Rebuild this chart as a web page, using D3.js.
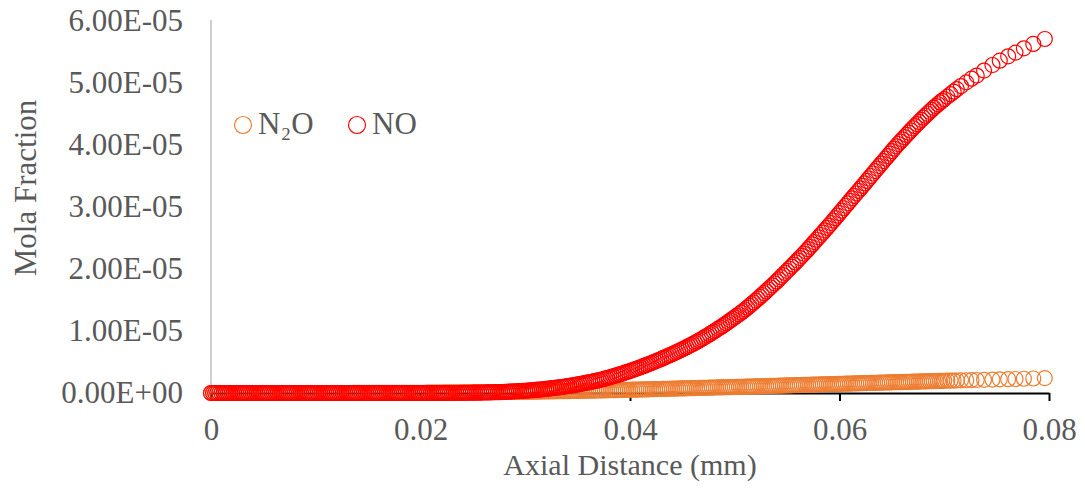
<!DOCTYPE html>
<html>
<head>
<meta charset="utf-8">
<script src="https://cdn.jsdelivr.net/npm/d3@7"></script>
<style>
  html, body { margin: 0; padding: 0; background: #ffffff; }
  svg { display: block; }
</style>
</head>
<body>
<svg id="chart" width="1085" height="491"></svg>
<script>
// ---------------- data ----------------
const seriesNames = ["N₂O", "NO"];

const xTickValues = [0, 0.02, 0.04, 0.06, 0.08];
const xTickLabels = ["0", "0.02", "0.04", "0.06", "0.08"];
const yTickValues = [0, 1e-5, 2e-5, 3e-5, 4e-5, 5e-5, 6e-5];
const yTickLabels = ["0.00E+00", "1.00E-05", "2.00E-05", "3.00E-05", "4.00E-05", "5.00E-05", "6.00E-05"];

// axial distance of the grid points, in units of 1e-4 mm
const axialDistanceE4 = [
  0,2,4,6,8,10,12,14,16,18,20,22,24,26,28,30,32,34,36,38,40,42,44,46,48,50,52,54,56,58,60,62,64,66,68,70,72,74,76,78,80,82,84,86,88,90,92,94,96,98,
  100,102,104,106,108,110,112,114,116,118,120,122,124,126,128,130,132,134,136,138,140,142,144,146,148,150,152,154,156,158,160,162,164,166,168,170,172,174,176,178,180,182,184,186,188,190,192,194,196,198,
  200,202,204,206,208,210,212,214,216,218,220,222,224,226,228,230,232,234,236,238,240,242,244,246,248,250,252,254,256,258,260,262,264,266,268,270,272,274,276,278,280,282,284,286,288,290,292,294,296,298,
  300,302,304,306,308,310,312,314,316,318,320,322,324,326,328,330,332,334,336,338,340,342,344,346,348,350,352,354,356,358,360,362,364,366,368,370,372,374,376,378,380,382,384,386,388,390,392,394,396,398,
  400,402,404,406,408,410,412,414,416,418,420,422,424,426,428,430,432,434,436,438,440,442,444,446,448,450,452,454,456,458,460,462,464,466,468,470,472,474,476,478,480,482,484,486,488,490,492,494,496,498,
  500,502,504,506,508,510,512,514,516,518,520,522,524,526,528,530,532,534,536,538,540,542,544,546,548,550,552,554,556,558,560,562,564,566,568,570,572,574,576,578,580,582,584,586,588,590,592,594,596,598,
  600,602,604,606,608,610,612,614,616,618,620,622,624,626,628,630,632,634,636,638,640,642,644,646,648,650,652,654,656,658,660,662,664,666,668,670,672,674,676,678,680,682,684,686,688,690,692,694,696,698,
  700,703,706,709,712,716,721,726,731,738,746,753,761,768,776,785,796
];

// N2O mole fraction, in units of 1e-5
const n2oE5 = [
  0,0,0,0,0,0,0,0,0,0,0,0,0,0,0,0,0,0,0,0,0,0,0,0,0,0,0,0,0,0,0,0,0,0,0,0,0,0,0,0,0,0,0,0,0,0,0,0,0,0,
  0,0,0,0,0,0,0,0,0,0,0,.0001,.0002,.0002,.0003,.0003,.0004,.0004,.0005,.0005,.0006,.0007,.0008,.0008,.0009,.0010,.0011,.0012,.0013,.0014,.0015,.0016,.0017,.0018,.0019,.0020,.0021,.0023,.0024,.0026,.0027,.0028,.0029,.0030,.0031,.0033,.0035,.0036,.0038,.0039,
  .0040,.0042,.0044,.0046,.0048,.0050,.0052,.0054,.0056,.0058,.0060,.0062,.0065,.0067,.0070,.0072,.0074,.0077,.0080,.0082,.0085,.0088,.0091,.0094,.0097,.0100,.0103,.0106,.0110,.0114,.0118,.0122,.0126,.0130,.0134,.0138,.0142,.0146,.0150,.0155,.0160,.0164,.0168,.0172,.0176,.0180,.0184,.0188,.0192,.0196,
  .0200,.0205,.0210,.0215,.0220,.0226,.0231,.0237,.0242,.0248,.0253,.0259,.0264,.0270,.0275,.0281,.0286,.0292,.0298,.0304,.0310,.0316,.0322,.0328,.0334,.0341,.0347,.0354,.0360,.0367,.0373,.0380,.0386,.0393,.0400,.0407,.0414,.0421,.0428,.0435,.0442,.0450,.0457,.0465,.0472,.0480,.0487,.0495,.0503,.0511,
  .0520,.0529,.0537,.0546,.0554,.0563,.0571,.0580,.0589,.0598,.0607,.0616,.0625,.0634,.0643,.0652,.0661,.0670,.0679,.0688,.0697,.0706,.0715,.0724,.0733,.0742,.0751,.0760,.0769,.0778,.0787,.0796,.0805,.0814,.0823,.0832,.0841,.0850,.0859,.0868,.0877,.0886,.0895,.0904,.0913,.0922,.0931,.0940,.0949,.0960,
  .097,.098,.099,.100,.101,.102,.103,.104,.105,.106,.107,.108,.109,.110,.111,.112,.113,.114,.115,.116,.117,.118,.119,.120,.121,.122,.123,.124,.125,.126,.127,.128,.129,.130,.131,.132,.133,.134,.135,.136,.137,.138,.139,.140,.141,.142,.143,.144,.145,.146,
  .147,.148,.149,.150,.151,.152,.153,.154,.155,.156,.157,.158,.159,.160,.161,.162,.163,.164,.165,.166,.167,.168,.169,.170,.171,.172,.173,.174,.175,.176,.177,.178,.179,.180,.181,.182,.183,.184,.185,.186,.187,.188,.189,.190,.191,.192,.193,.194,.195,.196,
  .197,.198,.200,.201,.202,.204,.206,.208,.210,.213,.216,.220,.223,.226,.230,.234,.240
];

// NO mole fraction, in units of 1e-5
const noE5 = [
  0,0,0,0,0,0,0,0,0,0,0,0,0,0,0,0,0,0,0,0,0,0,0,0,0,0,0,0,0,0,0,0,0,0,0,0,0,0,0,0,0,0,0,0,0,0,0,0,0,0,
  0,0,0,0,0,0,0,0,0,0,0,0,0,0,0,0,0,0,0,0,0,0,0,0,0,0,0,0,0,0,0,0,0,0,0,0,0,0,0,0,0,0,0,0,0,0,0,0,0,0,
  0,0,0,0,0,0,0,0,0,0,0,.001,.001,.001,.001,.002,.002,.002,.002,.003,.003,.003,.004,.004,.004,.005,.005,.006,.006,.007,.008,.008,.009,.010,.011,.012,.013,.014,.015,.016,.018,.019,.021,.022,.024,.026,.028,.030,.032,.034,
  .036,.038,.041,.044,.047,.050,.053,.056,.059,.062,.066,.070,.074,.078,.082,.086,.090,.095,.100,.105,.110,.115,.121,.126,.132,.138,.144,.150,.157,.163,.170,.177,.184,.191,.198,.205,.214,.222,.231,.240,.250,.260,.270,.280,.290,.300,.310,.321,.333,.344,
  .355,.367,.379,.391,.403,.415,.428,.441,.454,.467,.480,.494,.508,.522,.536,.550,.565,.580,.595,.610,.625,.641,.657,.673,.689,.705,.722,.739,.756,.773,.790,.809,.828,.847,.866,.885,.906,.927,.948,.969,.990,1.012,1.034,1.056,1.078,1.100,1.124,1.148,1.172,1.196,
  1.220,1.245,1.270,1.295,1.320,1.347,1.376,1.404,1.432,1.461,1.490,1.520,1.550,1.580,1.610,1.640,1.672,1.704,1.736,1.768,1.800,1.834,1.868,1.902,1.936,1.970,2.004,2.038,2.072,2.106,2.140,2.176,2.212,2.248,2.284,2.320,2.358,2.396,2.434,2.472,2.510,2.548,2.586,2.624,2.662,2.700,2.740,2.780,2.820,2.860,
  2.900,2.940,2.980,3.020,3.060,3.100,3.140,3.180,3.220,3.260,3.300,3.340,3.380,3.420,3.460,3.500,3.540,3.580,3.620,3.660,3.700,3.740,3.780,3.820,3.860,3.900,3.940,3.978,4.016,4.053,4.090,4.126,4.162,4.198,4.234,4.270,4.304,4.338,4.372,4.406,4.440,4.472,4.504,4.536,4.568,4.600,4.628,4.657,4.686,4.713,
  4.74,4.78,4.82,4.86,4.90,4.95,5.01,5.07,5.12,5.20,5.29,5.36,5.43,5.49,5.56,5.63,5.71
];

const seriesColors = ["#ED7D31", "#FF0000"];
const xTitle = "Axial Distance (mm)";
const yTitle = "Mola Fraction";

// ---------------- drawing ----------------
const FONT = "'Liberation Serif', 'Times New Roman', serif";
const TEXT = "#595959";
const svg = d3.select("#chart");

const plotLeft = 211, plotRight = 1049, plotTop = 21, plotBottom = 393;
const x = d3.scaleLinear().domain([0, 0.08]).range([plotLeft, plotRight]);
const y = d3.scaleLinear().domain([0, 6e-5]).range([plotBottom, plotTop]);

// y axis
const yAxis = svg.append("g")
  .attr("transform", `translate(${plotLeft},0)`)
  .call(d3.axisLeft(y).tickValues(yTickValues)
        .tickFormat((d, i) => yTickLabels[i]).tickSize(0).tickSizeOuter(0).tickPadding(28));
yAxis.select(".domain").attr("stroke", "#BFBFBF").attr("stroke-width", 1.5)
  .attr("d", `M0,${plotBottom}V${plotTop - 1}`);
yAxis.selectAll("text").attr("font-family", FONT).attr("font-size", 31).attr("fill", TEXT)
  .attr("dy", "0.32em");

// x axis
const xAxis = svg.append("g")
  .attr("transform", `translate(0,${plotBottom})`)
  .call(d3.axisBottom(x).tickValues(xTickValues)
        .tickFormat((d, i) => xTickLabels[i]).tickSize(8).tickSizeOuter(0));
xAxis.select(".domain").attr("stroke", "#000000").attr("stroke-width", 2);
xAxis.selectAll(".tick line").attr("stroke", "#000000").attr("stroke-width", 2);
xAxis.selectAll("text").attr("font-family", FONT).attr("font-size", 31).attr("fill", TEXT)
  .attr("y", 47).attr("dy", 0);

// series markers
const seriesValues = [n2oE5, noE5];
seriesValues.forEach((vals, s) => {
  svg.append("g").selectAll("circle")
    .data(axialDistanceE4.map((d, i) => [d * 1e-4, vals[i] * 1e-5]))
    .join("circle")
    .attr("cx", d => x(d[0]))
    .attr("cy", d => y(d[1]))
    .attr("r", 7.5)
    .attr("fill", "none")
    .attr("stroke", seriesColors[s])
    .attr("stroke-width", 1.2);
});

// axis titles
svg.append("text")
  .attr("x", 630).attr("y", 475)
  .attr("text-anchor", "middle")
  .attr("font-family", FONT).attr("font-size", 30).attr("fill", TEXT)
  .text(xTitle);

svg.append("text")
  .attr("transform", "translate(36,188) rotate(-90)")
  .attr("text-anchor", "middle")
  .attr("font-family", FONT).attr("font-size", 31).attr("fill", TEXT)
  .text(yTitle);

// legend
const legendItems = [
  { cx: 243, tx: 258 },
  { cx: 357, tx: 372 }
];
legendItems.forEach((p, i) => {
  svg.append("circle")
    .attr("cx", p.cx).attr("cy", 125).attr("r", 8.5)
    .attr("fill", "none").attr("stroke", seriesColors[i]).attr("stroke-width", 1.2);
  svg.append("text")
    .attr("x", p.tx).attr("y", 134)
    .attr("font-family", FONT).attr("font-size", 31).attr("fill", TEXT)
    .text(seriesNames[i]);
});
</script>
</body>
</html>
